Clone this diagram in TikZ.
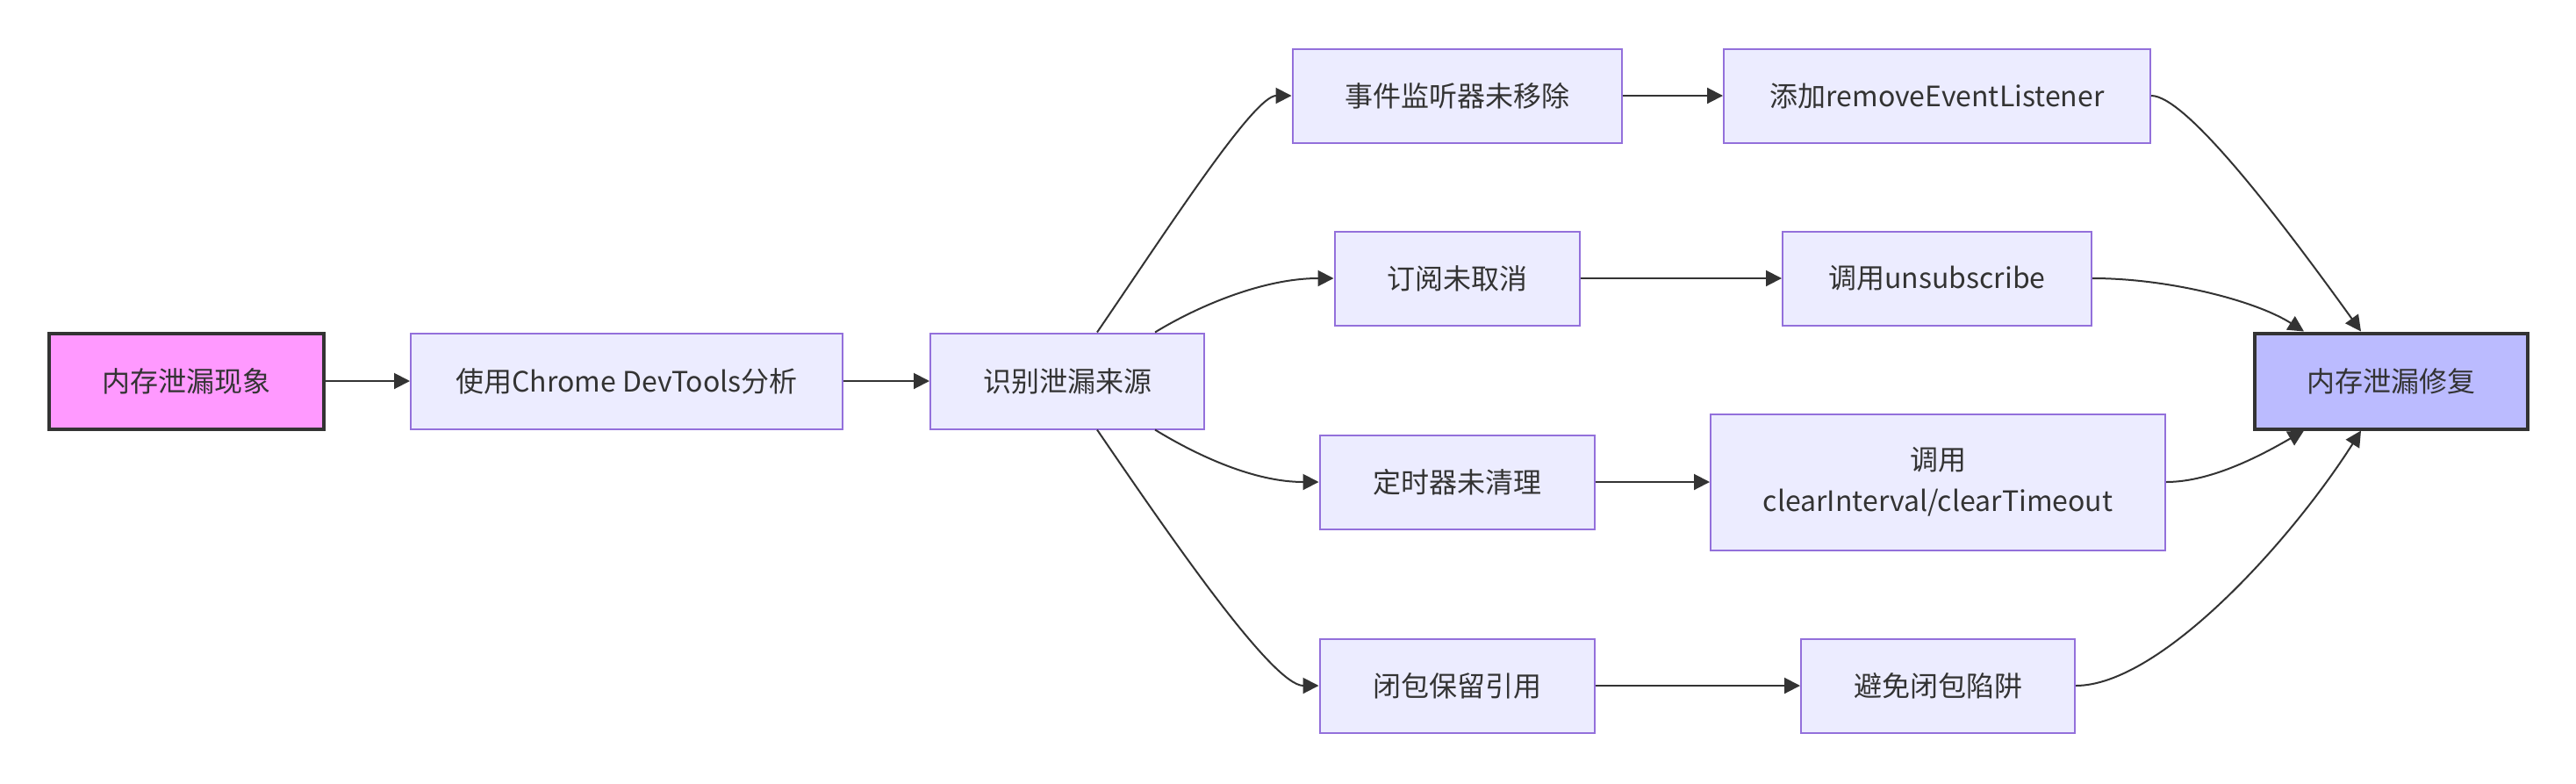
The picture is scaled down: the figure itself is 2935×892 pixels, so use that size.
\documentclass[tikz,border=0pt]{standalone}
\usepackage{fontspec}
\setmainfont{Noto Sans CJK SC}
\usetikzlibrary{arrows.meta}
\definecolor{nodefill}{HTML}{ECECFF}
\definecolor{nodeborder}{HTML}{9370DB}
\definecolor{darkc}{HTML}{333333}
\definecolor{pinkfill}{HTML}{FF99FF}
\definecolor{bluefill}{HTML}{BBBBFF}
\tikzset{
  box/.style={draw=nodeborder, fill=nodefill, line width=2pt, minimum height=107pt,
    inner sep=0pt, font=\fontsize{32}{47}\selectfont, text=darkc, align=center},
  endbox/.style={box, draw=darkc, line width=4pt},
  conn/.style={draw=darkc, line width=2pt, -{Triangle[length=18pt,width=18pt]}}
}
\begin{document}
\begin{tikzpicture}[x=1pt,y=-1pt]
\useasboundingbox[fill=white] (0,0) rectangle (2935,892);
\node[endbox, fill=pinkfill, minimum width=313pt, minimum height=109pt] (A) at (212,434) {内存泄漏现象};
\node[box, minimum width=492pt, minimum height=109pt] (B) at (714,434) {使用Chrome DevTools分析};
\node[box, minimum width=312pt, minimum height=109pt] (C) at (1216,434) {识别泄漏来源};
\node[box, minimum width=375pt] (D1) at (1660,109) {事件监听器未移除};
\node[box, minimum width=279pt] (D2) at (1660,317) {订阅未取消};
\node[box, minimum width=313pt] (D3) at (1660,549) {定时器未清理};
\node[box, minimum width=313pt] (D4) at (1660,781) {闭包保留引用};
\node[box, minimum width=486pt] (E1) at (2207,109) {添加removeEventListener};
\node[box, minimum width=352pt] (E2) at (2207,317) {调用unsubscribe};
\node[box, minimum width=518pt, minimum height=155pt] (E3) at (2208,549) {调用\\clearInterval/clearTimeout};
\node[box, minimum width=312pt] (E4) at (2208,781) {避免闭包陷阱};
\node[endbox, fill=bluefill, minimum width=311pt, minimum height=109pt] (F) at (2724,434) {内存泄漏修复};

\draw[conn] (A.east) -- (B.west);
\draw[conn] (B.east) -- (C.west);
\draw[conn] ([xshift=34pt]C.north) .. controls +(80,-117) and +(-43,0) .. (D1.west);
\draw[conn] ([xshift=100pt]C.north) .. controls +(49,-30) and +(-80,0) .. (D2.west);
\draw[conn] ([xshift=100pt]C.south) .. controls +(49,30) and +(-73,0) .. (D3.west);
\draw[conn] ([xshift=34pt]C.south) .. controls +(80,117) and +(-53,0) .. (D4.west);
\draw[conn] (D1.east) -- (E1.west);
\draw[conn] (D2.east) -- (E2.west);
\draw[conn] (D3.east) -- (E3.west);
\draw[conn] (D4.east) -- (E4.west);
\draw[conn] (E1.east) .. controls +(40,0) and +(-90,-125) .. ([xshift=-34pt]F.north);
\draw[conn] (E2.east) .. controls +(87,0) and +(-55,-35) .. ([xshift=-99pt]F.north);
\draw[conn] (E3.east) .. controls +(53,0) and +(-45,26) .. ([xshift=-99pt]F.south);
\draw[conn] (E4.east) .. controls +(96,0) and +(-80,126) .. ([xshift=-34pt]F.south);
\end{tikzpicture}
\end{document}
